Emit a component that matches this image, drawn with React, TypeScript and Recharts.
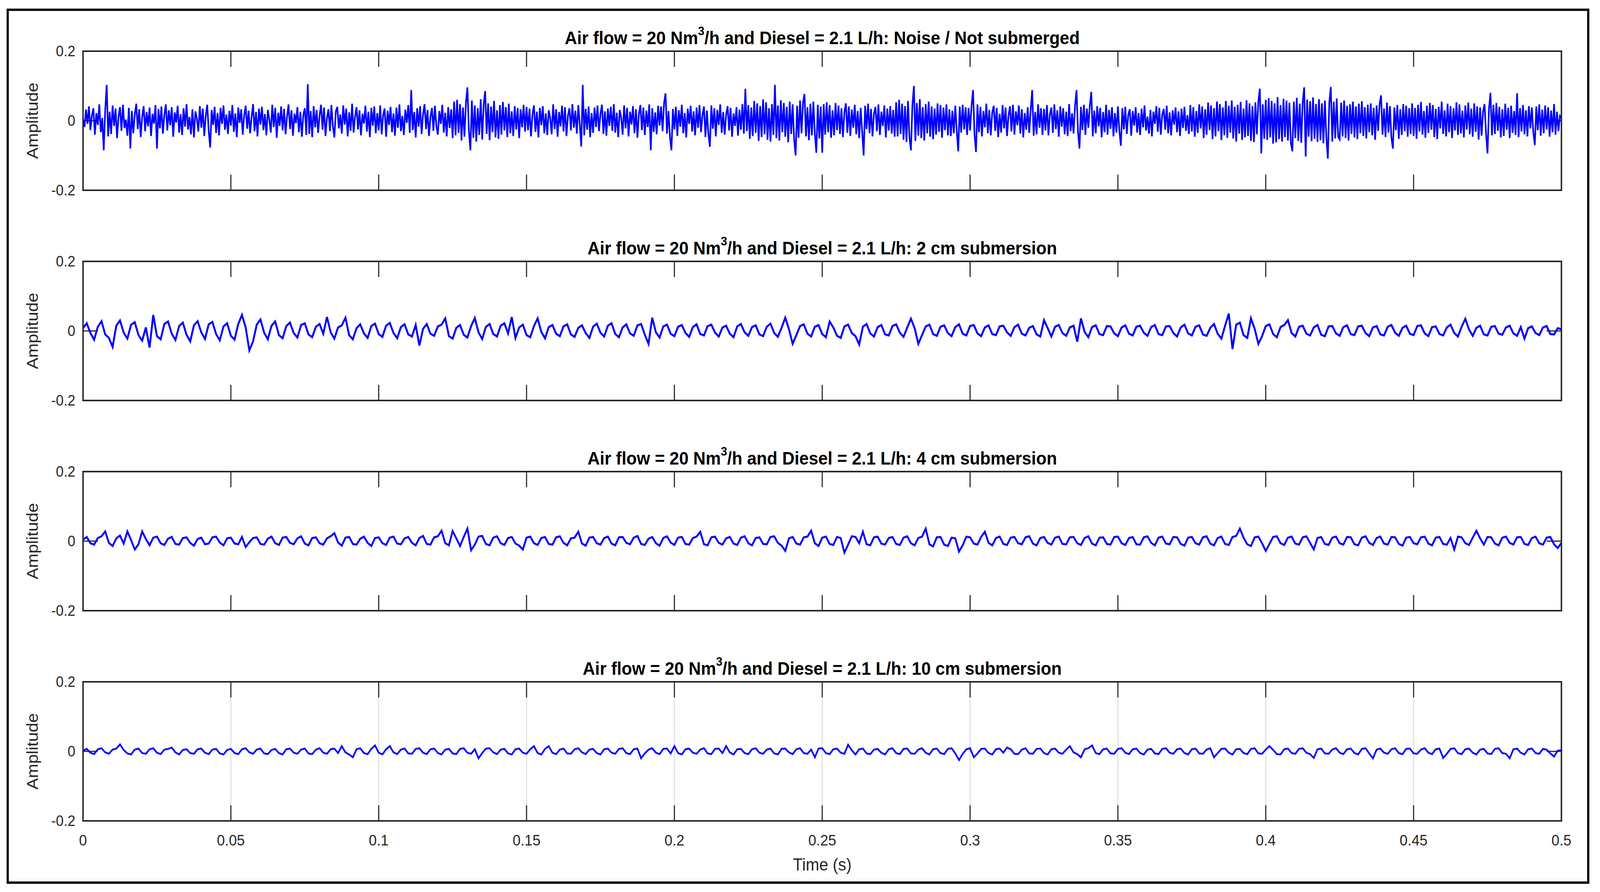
import React, { useState } from 'react';
import { LineChart, Line, XAxis, YAxis, CartesianGrid, ReferenceArea, ReferenceLine } from 'recharts';

// Amplitude samples are written as amplitude x 1000.
const AMP_UNIT = 1000;
const T_END = 0.5;

const timeTicks = [0, 0.05, 0.1, 0.15, 0.2, 0.25, 0.3, 0.35, 0.4, 0.45, 0.5];
const ampTicks = [-0.2, 0, 0.2];

const titlePrefix = 'Air flow = 20 Nm';
const titleSup = '3';
const titleSuffixes = [
  '/h and Diesel = 2.1 L/h: Noise / Not submerged',
  '/h and Diesel = 2.1 L/h: 2 cm submersion',
  '/h and Diesel = 2.1 L/h: 4 cm submersion',
  '/h and Diesel = 2.1 L/h: 10 cm submersion',
];

// Panel 1: Noise / Not submerged
const noiseNotSubmerged = [
  5, -18, 32, -9, 41, -27, 15, 36, -40, 22, -12, 47, -33, 8, -85, 30, 103, -45, 26, -38,
  44, -15, 35, -50, 12, 39, -29, 46, -21, 3, -43, 37, -80, 28, -36, 18, 49, -24, 33, -47,
  11, 42, -30, 25, -16, 38, -44, 20, -8, 45,
  -80, 34, -22, 41, -37, 16, 47, -28, 30, -13, 39, -46, 24, -5, 43, -34, 19, -41, 36, -17,
  48, -25, 11, -39, 33, -48, 27, 6, -31, 42, -20, 35, -44, 14, 46, -29, -77, 31, -12, 40,
  -35, 22, -42, 37, -9, 44, -26, 18, -38, 29,
  -14, 45, -32, 21, -47, 38, -6, 33, -40, 16, 43, -23, 29, -36, 10, 48, -30, 25, -45, 35,
  -11, 40, -27, 19, -42, 31, 4, -34, 46, -18, 37, -49, 23, -15, 41, -28, 34, -39, 13, 47,
  -24, 30, -43, 20, -7, 39, -33, 26, -46, 17,
  36, -41, 105, -38, 28, -47, 42, -19, 31, -35, 15, 46, -26, 38, -44, 9, 33, -30, 45, -16,
  -48, 27, 40, -22, 18, -37, 44, -11, 35, -45, 24, -29, 49, -34, 12, 39, -25, 30, -42, 20,
  -8, 43, -31, 26, -47, 37, -14, 41, -36, 22,
  -28, 44, -39, 17, 35, -46, 29, -12, 40, -33, 21, -43, 38, -20, 47, -30, 14, -41, 32, -6,
  45, -35, 88, -27, 25, -48, 36, -17, 42, -38, 19, 48, -24, 31, -44, 10, 37, -29, 43, -15,
  -40, 28, -9, 46, -34, 23, -45, 39, -21, 33,
  -50, 55, -42, 60, -35, 48, -57, 38, -46, 52, 96, -30, -85, 58, -49, 44, -60, 36, -41, 62,
  -54, 47, 85, -38, 50, -56, 41, -33, 57, -48, 30, -52, 45, -40, 54, -28, 39, -47, 49, -36,
  27, -44, 42, -25, 37, -50, 33, -19, 46, -31,
  40, -27, 35, -45, 18, 44, -32, 26, -48, 37, -13, 42, -36, 21, -41, 30, 8, -39, 47, -24,
  33, -46, 25, -16, 43, -31, 39, -44, 15, 36, -28, 48, -20, 29, -37, 45, -12, -74, 103, -42,
  34, -26, 41, -47, 22, -35, 38, -18, 44, -30,
  19, 46, -38, 27, -43, 35, -15, 40, -29, 48, -34, 23, -47, 31, 10, -40, 44, -22, 37, -45,
  26, -11, 42, -36, 33, -49, 20, 45, -27, 38, -41, 29, -18, 47, -85, 36, -32, 24, -39, 43,
  -14, 41, -30, 50, 79, -37, 28, -46, -85, 34,
  -25, 40, -44, 30, -17, 46, -36, 22, -48, 35, -9, 43, -31, 27, -42, 38, -20, 45, -33, 16,
  41, -47, 29, -38, -75, 44, -23, 36, -45, 31, -12, 47, -35, 25, -40, 18, 42, -28, 37, -46,
  21, -15, 39, -43, 32, -26, 48, -37, 92, -30,
  45, -52, 38, -44, 57, -35, 50, -58, 42, -47, 61, -39, 53, -55, 36, -60, 48, -41, 103, -50,
  44, -57, 59, -33, 51, -46, 40, -62, 55, -38, 47, -54, -100, 43, -49, 58, -36, 52, 77, -45,
  39, -56, 49, -42, 55, -37, -92, 46, -51, 41,
  -92, 48, -40, 53, -33, 45, -49, 30, -42, 51, -27, 44, -38, 36, -47, 25, 50, -35, 41, -44,
  32, -20, 46, -39, 28, -50, 37, -31, -100, 43, -24, 49, -36, 34, -45, 21, 40, -30, 47, -41,
  26, -15, 44, -48, 35, -28, 42, -37, 31, -46,
  53, -45, 60, -38, 49, -55, 42, -61, 57, -47, -85, 44, 100, -58, 51, -43, 62, -50, 39, -57,
  48, -36, 55, -46, 41, -53, 35, -40, 50, -32, 45, -49, 38, -27, 47, -42, 33, -44, 29, -36,
  43, -30, -88, 41, -34, 46, -25, 39, -41, 37,
  -28, 44, 88, -38, -90, 47, -33, 40, -45, 28, -19, 49, -36, 31, -42, 24, 43, -29, 37, -47,
  20, -34, 45, -22, 38, -44, 15, 41, -31, 46, -40, 27, -13, 44, -37, 33, -48, 22, -26, 39,
  -35, 30, 88, -43, 25, -39, 47, -20, 36, -41,
  34, -28, 45, -42, 19, 38, -35, 47, -24, 30, -46, 41, -17, 36, -39, 26, -44, 48, -30, 21,
  -37, 43, 88, -32, -80, 40, -27, 46, -41, 35, -20, 44, 83, -45, 29, -36, 42, -16, 37, -48,
  25, -33, 46, -40, 31, -23, 39, -45, 22, -34,
  41, -30, -72, 36, -25, 40, -38, 17, 33, -43, 28, -14, 39, -34, 22, -41, 35, -19, 44, -28,
  12, -37, 31, -45, 26, -9, 42, -32, 37, -40, 18, 34, -26, 43, -36, 24, -42, 30, -11, 38,
  -33, 27, -44, 35, -21, 40, -29, 16, -38, 45,
  -31, 39, -46, 28, -35, 47, -22, 41, -50, 33, -40, 52, -27, 44, -53, 36, -45, 55, -30, 48,
  -56, 38, -42, 57, -49, 43, -34, 58, -51, 40, -60, 46, -37, 54, -55, 35, -48, 59, -44, 50,
  -58, 42, -61, 53, -39, 56, 92, -94, 47, -52,
  60, -55, 65, -48, 57, -66, 50, -62, 68, -53, 45, -60, 63, -47, 58, -57, 52, -64, -88, 55,
  -50, 66, -58, 49, -63, 54, 96, -103, 61, -46, 56, -59, 67, -52, 48, -61, 62, -56, 50, -65,
  58, -49, -109, 53, 97, -60, 55, -51, 64, -47,
  -54, 52, -45, 58, -50, 43, -57, 47, -38, 55, -48, 41, -53, 49, -36, 56, -44, 39, -51, 46,
  -33, 50, -42, 37, -55, 44, -29, 48, 73, -40, 35, -47, 52, -34, 42, -49, -80, 38, -27, 45,
  -52, 33, -41, 48, -30, 43, -46, 36, -38, 50,
  -44, 37, -52, 46, -31, 54, -40, 28, -49, 43, -35, 51, -26, 45, -47, 34, -53, 40, -22, 55,
  -38, 30, -45, 49, -33, 42, -50, 36, -28, 53, -41, 47, -36, 29, -48, 44, -25, 52, -39, 35,
  -46, 50, -32, 41, -54, 38, -43, 27, 48, -37,
  -94, 35, 80, -42, 46, -38, 51, -29, 40, -48, 33, -44, 49, -26, 37, -50, 43, -35, 28, -41,
  79, -47, 36, -31, 45, -39, 30, -45, 42, -22, 38, -34, -70, 41, -27, 47, -43, 32, -36, 44,
  -25, 39, -46, 29, -33, 48, -40, 26, -30, 14,
  8,
];

// Panel 2: 2 cm submersion
const submersion2cm = [
  8, 22, -6, -25, 12, 28, -10, -20, -46, 15, 30, -5, -22, 18, 25, -12, -28, 10, -48, 46,
  -15, -24, 20, 27, -8, -26, 14, 24, -11, -30, 16, 28, -4, -23, 19, 26, -9, -27, 13, 22,
  -14, -25, 20, 46, 10, -56, -30, 18, 33, -5, -24, 15, 27, -12, -21, 14, 24, -6, -19, 17,
  22, -10, -18, 12, 20, -8, 40, -4, -22, 10, 16, 38, -12, -24, 8, 19, -7, -20, 14, 21,
  -9, -17, 15, 23, -6, -21, 11, 19, -10, -16, 17, -42, 6, 20, -8, -14, 13, 18, 36, -15,
  -22, 9, 17, -11, -19, 14, 37, -4, -23, 12, 20, -9, -16, 15, 22, -7, 40, -20, 10, 18,
  -12, -18, 14, 36, -3, -21, 11, 17, -8, -15, 13, 19, -10, -17, 9, 16, -6, -20, 12, 21,
  -5, -16, 15, 22, -9, -18, 10, 19, -7, -14, 16, 20, -11, -37, 38, -4, -19, 13, 18, -8,
  -15, 12, 17, -6, -17, 11, 19, -9, -13, 14, 18, -5, -16, 10, 15, -8, -18, 13, 20, -4,
  -14, 11, 16, -10, -15, 12, 21, -6, -17, 9, 38, 5, -37, -12, 14, 19, -8, -16, 12, 17,
  -9, -18, 27, 10, -14, -20, 13, 18, -6, -15, -39, 12, 20, -7, -16, 11, 17, -10, -13, 14,
  19, -5, -17, 10, 35, 8, -37, -12, 13, 18, -9, -14, 12, 16, -6, -15, 11, 19, -8, -13,
  14, 17, -7, -15, 10, 16, -9, -12, 13, 15, -4, -14, 11, 18, -8, -13, 9, 14, -10, -16,
  31, 8, -16, 12, 17, -6, -14, 10, 15, -31, 36, -3, -18, 11, 16, -9, -12, 14, 13, -7,
  -15, 10, 16, -8, -13, 12, 15, -5, -14, 11, 17, -9, -12, 13, 14, -6, -16, 10, 18, -7,
  -13, 12, 16, -10, -14, 9, 20, -8, -22, 15, 50, -52, 18, 24, -12, -20, 36, 6, -37, -15,
  14, 19, -9, -18, 11, 17, 31, -6, -16, 12, 15, -8, -13, 10, 17, -11, -15, 13, 14, -7,
  -14, 11, 16, -9, -12, 13, 15, -6, -15, 10, 14, -10, -13, 12, 17, -5, -14, 9, 15, -8,
  -12, 14, 16, -7, -15, 11, 13, -9, -13, 10, 18, -6, -16, 12, 35, 4, -14, 9, 15, -10,
  -13, 12, 14, -8, -11, 10, 15, -7, -14, 11, -22, 8, 13, -6, -12, 10, 14, -9, -10, 8,
  5,
];

// Panel 3: 4 cm submersion
const submersion4cm = [
  4, 12, -6, -10, 9, 14, 28, -5, -14, 8, 16, -7, 28, 3, -24, -9, 28, 6, -12, 10,
  13, -6, -11, 7, 12, -8, -10, 9, 11, -5, -13, 6, 10, -9, -7, 11, 13, -4, -12, 8,
  10, -7, -9, 12, -17, -3, 9, 11, -8, -10, 7, 13, -6, -11, 10, 12, -5, -9, 8, 14,
  -7, -12, 9, 11, -6, -10, 8, 14, 23, -4, -13, 10, 12, -8, -10, 7, 13, -5, -14, 9,
  11, -6, -11, 10, 13, -7, -9, 8, 12, -5, -12, 9, 15, -8, -10, 11, 14, 30, -6, -12,
  29, 8, -14, 12, 36, -26, -10, 13, 15, -8, -12, 10, 14, -6, -11, 9, 12, -7, -13, -24,
  10, 13, -6, -11, 9, 12, -8, -10, 11, 14, -5, -12, 8, 10, 27, -7, -13, 10, 12, -6,
  -10, 9, 13, -7, -12, 11, 12, -5, -9, 10, 15, -8, -11, 7, 12, -6, -13, 9, 14, -4,
  -11, 10, 12, -8, -10, 9, 13, 27, -9, -12, 11, 13, -5, -10, 8, 12, -7, -11, 10, 14,
  -6, -12, 9, 11, -8, -9, 12, 14, -5, -13, -28, 8, 12, -7, -10, 11, 13, 30, -6, -14,
  10, 13, -8, -11, 12, 9, -33, -10, 14, 12, -6, 27, -9, -12, 11, 13, -7, -10, 9, 12,
  -8, -11, 10, 14, -6, -12, 9, 13, 36, -9, -15, 11, 12, -10, -14, 10, 8, -30, -12, 13,
  11, -7, -10, 12, 27, -5, -12, 9, 13, -8, -11, 10, 12, -6, -9, 11, 14, -7, -12, 9,
  12, -5, -10, 10, 13, -8, -9, 11, 12, -6, -11, 9, 14, -7, -12, 10, 11, -8, -10, 12,
  13, -6, -11, 9, 12, -9, -10, 11, 14, -5, -12, 10, 13, -7, -9, 12, 11, -8, -13, 10,
  12, -6, -10, 11, 14, -7, -12, 9, 13, -8, -11, 12, 15, 36, 10, -9, -14, 11, 13, -6,
  -28, -8, 12, 14, -6, -11, 10, 13, -7, -10, 11, 14, -5, -24, 9, 12, -8, -11, 10, 13,
  -6, -10, 12, 11, -9, -12, 10, 14, -5, -11, 9, 13, -7, -10, 12, 11, -8, -13, 10, 12,
  -6, -9, 11, 13, -7, -12, 10, 12, -8, -10, 9, -24, 13, 11, -6, -11, 10, 30, 8, -10,
  12, 11, -7, -12, 10, 13, -5, -10, 11, 12, -8, -11, 9, 13, -6, -10, 10, 12, -9, -20,
  -5,
];

// Panel 4: 10 cm submersion
const submersion10cm = [
  2, 7, -4, -8, 6, 9, -3, -7, 5, 8, 20, 4, -6, -9, 5, 8, -5, -7, 6, 9,
  -4, -8, 5, 7, 11, -3, -9, 4, 6, -5, -7, 6, 8, -4, -8, 5, 7, -6, -9, 4,
  7, -5, -8, 6, 9, -3, -7, 5, 8, -6, -8, 4, 7, -5, -9, 6, 8, -4, -7, 5,
  8, -6, -8, 5, 9, -4, -7, 6, 8, -5, 15, -3, -9, -17, 6, 9, -5, -8, 7, 17,
  -4, -9, 6, 15, -3, -8, 5, 8, -6, -7, 7, 9, -4, -8, 6, 8, -5, -9, 5, 7,
  -6, -8, 7, 9, -4, -7, 6, -20, -5, 8, 9, -3, -8, 5, 7, -6, -9, 6, 8, -4,
  -7, 6, 15, -5, -9, 7, 15, -4, -8, 5, 8, -6, -7, 6, 9, -3, -8, 5, 7, -5,
  -9, 6, 8, -4, -7, 7, 9, -5, -8, 6, 8, -20, -6, 5, 9, -4, -8, 7, 8, -6,
  15, -5, -9, 6, 8, -4, -7, 5, 9, -6, -8, 7, 8, -5, 15, -3, -9, 6, 7, -5,
  -8, 6, 9, -4, -7, 5, 8, -6, -9, 7, 8, -3, -8, 6, 9, -5, -7, 5, -17, 8,
  9, -5, -8, 6, 8, -4, -7, 19, 3, -9, 6, 8, -6, -8, 5, 7, -4, -9, 6, 9,
  -5, -8, 7, 8, -6, -7, 5, 9, -4, -9, 6, 8, -5, -8, 7, 9, -6, -25, -7, 6,
  9, -17, -6, 7, 8, -5, -9, 6, 8, -4, 11, 6, -7, -8, 5, 9, -6, -7, 7, 8,
  -5, -9, 6, 8, -4, -7, 5, 15, -3, -8, -17, 6, 9, 17, -5, -8, 6, 8, -6, -7,
  7, 9, -4, -8, 6, 8, -5, -9, 5, 7, -6, -8, 7, 9, -4, -7, 6, 8, -5, -9,
  6, 8, -6, -7, 5, 9, -17, -5, 7, 8, -4, -9, 6, 7, -5, -8, 7, 9, -6, -7,
  5, 15, 4, -8, -9, 6, 8, -5, -7, 7, 9, -4, -8, -19, 6, 8, -6, -7, 5, 9,
  -4, -8, 6, 8, -5, -9, 7, 9, -6, -20, 5, 8, -4, -7, 6, 9, -5, -8, 7, 8,
  -6, -7, 5, 9, -4, -8, 6, 8, -19, -7, 7, 9, -5, -8, 6, 8, -4, -9, 5, 7,
  -6, -8, 7, 9, -5, -7, -20, 6, 8, -4, -9, 6, 8, -5, -7, 7, 5, -6, -15, 2,
  3,
];

const panelSeries = [noiseNotSubmerged, submersion2cm, submersion4cm, submersion10cm];
const panelStrokes = [4.4, 5.2, 5, 4.5];

const FONT = '"Liberation Sans", Arial, Helvetica, sans-serif';
const AXIS_COLOR = '#262626';
const PANEL_TOPS = [131, 669, 1207, 1745];
const PLOT_H = 356;
const PLOT_LEFT = 226;
const PLOT_RIGHT = 4250;
const W = 4355;
const H = 2283;

function Panel({ values, top, showX, sw }: { values: number[]; top: number; showX: boolean; sw: number }) {
  const data = values.map((v, i) => ({ t: (i * T_END) / (values.length - 1), a: v / AMP_UNIT }));
  const MT = 20;
  const XH = 70;
  const MB = 10;
  const inner = timeTicks.slice(1, -1);
  const tickLen = 0.045;
  return (
    <div style={{ position: 'absolute', left: 0, top: top - MT }}>
      <LineChart
        width={W}
        height={MT + PLOT_H + XH + MB}
        data={data}
        margin={{ top: MT, right: W - PLOT_RIGHT, bottom: MB, left: PLOT_LEFT - 100 }}
      >
        <CartesianGrid horizontal={false} stroke="#dcdcdc" strokeWidth={2.5} />
        <XAxis
          type="number"
          dataKey="t"
          domain={[0, T_END]}
          ticks={timeTicks}
          interval={0}
          height={XH}
          axisLine={false}
          tickLine={false}
          tickSize={0}
          tickMargin={35}
          tick={showX ? { fontSize: 39, fill: AXIS_COLOR, fontFamily: FONT } : false}
          allowDataOverflow
        />
        <YAxis
          type="number"
          domain={[-0.2, 0.2]}
          ticks={ampTicks}
          interval={0}
          width={100}
          axisLine={false}
          tickLine={false}
          tickSize={0}
          tickMargin={21}
          tick={{ fontSize: 38, fill: AXIS_COLOR, fontFamily: FONT }}
          allowDataOverflow
        />
        {inner.map((t) => (
          <ReferenceLine
            key={'b' + t}
            segment={[{ x: t, y: -0.2 }, { x: t, y: -0.2 + tickLen }]}
            stroke={AXIS_COLOR}
            strokeWidth={3}
          />
        ))}
        {inner.map((t) => (
          <ReferenceLine
            key={'t' + t}
            segment={[{ x: t, y: 0.2 }, { x: t, y: 0.2 - tickLen }]}
            stroke={AXIS_COLOR}
            strokeWidth={3}
          />
        ))}
        <ReferenceLine segment={[{ x: 0, y: 0 }, { x: 0.005, y: 0 }]} stroke={AXIS_COLOR} strokeWidth={3} />
        <ReferenceLine segment={[{ x: 0.495, y: 0 }, { x: 0.5, y: 0 }]} stroke={AXIS_COLOR} strokeWidth={3} />
        <Line
          type="linear"
          dataKey="a"
          stroke="#0000ff"
          strokeWidth={sw}
          dot={false}
          activeDot={false}
          isAnimationActive={false}
        />
        <ReferenceArea
          x1={0}
          x2={T_END}
          y1={-0.2}
          y2={0.2}
          fill="none"
          fillOpacity={0}
          stroke={AXIS_COLOR}
          strokeWidth={4}
          ifOverflow="visible"
        />
      </LineChart>
    </div>
  );
}

export default function App() {
  const cx = (PLOT_LEFT + PLOT_RIGHT) / 2;
  // The browser viewport may be narrower than the requested width; fit the figure to it.
  const [sx] = useState(() =>
    typeof window !== 'undefined' && window.innerWidth > 0 && window.innerWidth < W ? window.innerWidth / W : 1
  );
  return (
    <div style={{ position: 'fixed', left: 0, top: 0, right: 0, bottom: 0, overflow: 'hidden', background: '#fff' }}>
      <div
        style={{
          position: 'absolute',
          left: 0,
          top: 0,
          width: W,
          height: H,
          background: '#fff',
          fontFamily: FONT,
          transform: `scale(${sx}, 1)`,
          transformOrigin: '0 0',
        }}
      >
        {panelSeries.map((vals, k) => (
          <Panel key={k} values={vals} top={PANEL_TOPS[k]} showX={k === panelSeries.length - 1} sw={panelStrokes[k]} />
        ))}
        <svg width={W} height={H} style={{ position: 'absolute', left: 0, top: 0, pointerEvents: 'none' }}>
          <rect x={21} y={25} width={4302} height={2234} fill="none" stroke="#000" strokeWidth={6} />
          {titleSuffixes.map((suf, k) => (
            <text
              key={'title' + k}
              x={cx}
              y={PANEL_TOPS[k] - 18}
              textAnchor="middle"
              fontFamily={FONT}
              fontWeight="bold"
              fontSize={46.5}
              fill="#000"
            >
              {titlePrefix}
              <tspan dy={-23} fontSize={31}>{titleSup}</tspan>
              <tspan dy={23}>{suf}</tspan>
            </text>
          ))}
          {PANEL_TOPS.map((top, k) => {
            const cy = top + PLOT_H / 2;
            return (
              <text
                key={'yl' + k}
                x={103}
                y={cy}
                transform={`rotate(-90, 103, ${cy})`}
                textAnchor="middle"
                fontFamily={FONT}
                fontSize={44}
                fill={AXIS_COLOR}
              >
                Amplitude
              </text>
            );
          })}
          <text x={cx} y={2228} textAnchor="middle" fontFamily={FONT} fontSize={44} fill={AXIS_COLOR}>
            Time (s)
          </text>
        </svg>
      </div>
    </div>
  );
}
